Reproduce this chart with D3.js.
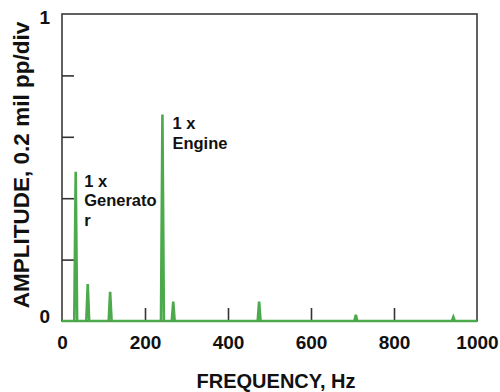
<!DOCTYPE html>
<html>
<head>
<meta charset="utf-8">
<script src="https://cdn.jsdelivr.net/npm/d3@7"></script>
<style>
  html, body { margin: 0; padding: 0; background: #fff; }
  svg { display: block; }
  text { font-family: "Liberation Sans", Arial, sans-serif; font-weight: bold; fill: #111; }
</style>
</head>
<body>
<svg id="chart" width="500" height="392"></svg>
<script>
// Spectrum peaks: frequency (Hz) and amplitude (fraction of full scale)
const peakFreqs = [33, 62, 116, 242, 268, 475, 708, 943];
const peakAmps  = [0.486, 0.12, 0.095, 0.673, 0.063, 0.063, 0.02, 0.013];
const peakHalfWidth = 3.5; // Hz

const xTicks = [0, 200, 400, 600, 800, 1000];
const yTicks = [0, 0.2, 0.4, 0.6, 0.8, 1];
const yTickLabels = ["0", "", "", "", "", "1"];

const annotations = [
  { freq: 242, amp: 0.673, dx: 10, lines: ["1 x", "Engine"] },
  { freq: 33, amp: 0.486, dx: 8.5, lines: ["1 x", "Generato", "r"] }
];

const svg = d3.select("#chart");
const plotL = 62, plotR = 477, plotT = 14, plotB = 321;

const x = d3.scaleLinear().domain([0, 1000]).range([plotL, plotR]);
const y = d3.scaleLinear().domain([0, 1]).range([plotB, plotT]);

// Build the spectrum trace: flat baseline with narrow triangular peaks
const trace = [[0, 0]];
peakFreqs.forEach((f, i) => {
  trace.push([f - peakHalfWidth, 0], [f, peakAmps[i]], [f + peakHalfWidth, 0]);
});
trace.push([1000, 0]);

// Frame
svg.append("rect")
  .attr("x", plotL).attr("y", plotT)
  .attr("width", plotR - plotL).attr("height", plotB - plotT)
  .attr("fill", "none").attr("stroke", "#3a3a3a").attr("stroke-width", 1.6);

// Y axis: inward ticks, only end labels
const yAxis = d3.axisLeft(y).tickValues(yTicks).tickSizeInner(-12).tickSizeOuter(0)
  .tickPadding(13).tickFormat((d, i) => yTickLabels[i]);
const gy = svg.append("g").attr("transform", `translate(${plotL},0)`).call(yAxis);
gy.select(".domain").remove();
gy.selectAll(".tick line").attr("stroke", "#333").attr("stroke-width", 1.6)
  .filter(d => d === 0 || d === 1).remove();
gy.selectAll(".tick text").attr("font-size", 19).attr("fill", "#111")
  .style("font-family", "Liberation Sans, Arial, sans-serif").style("font-weight", "bold")
  .attr("x", -12)
  .attr("y", d => d === 0 ? -5 : 3)
  .attr("dy", "0.35em");

// X axis: inward ticks
const xAxis = d3.axisBottom(x).tickValues(xTicks).tickSizeInner(-13).tickSizeOuter(0)
  .tickPadding(28).tickFormat(d3.format("d"));
const gx = svg.append("g").attr("transform", `translate(0,${plotB})`).call(xAxis);
gx.select(".domain").remove();
gx.selectAll(".tick line").attr("stroke", "#333").attr("stroke-width", 1.6)
  .filter(d => d === 0 || d === 1000).remove();
gx.selectAll(".tick text").attr("font-size", 19).attr("fill", "#111")
  .style("font-family", "Liberation Sans, Arial, sans-serif").style("font-weight", "bold")
  .attr("y", 15).attr("dy", "0.71em");

// Spectrum line
svg.append("path")
  .datum(trace)
  .attr("fill", "none")
  .attr("stroke", "#4caa4c")
  .attr("stroke-width", 2.6)
  .attr("stroke-linejoin", "miter")
  .attr("d", d3.line().x(d => x(d[0])).y(d => y(d[1])));

// Peak annotations
annotations.forEach(a => {
  const t = svg.append("text")
    .attr("x", x(a.freq) + a.dx)
    .attr("y", y(a.amp) + 15)
    .attr("font-size", 16.5);
  a.lines.forEach((l, i) => {
    t.append("tspan").attr("x", x(a.freq) + a.dx).attr("dy", i === 0 ? 0 : 19.5).text(l);
  });
});

// Axis titles
svg.append("text")
  .attr("x", 276).attr("y", 388)
  .attr("text-anchor", "middle").attr("font-size", 20)
  .text("FREQUENCY, Hz");

svg.append("text")
  .attr("transform", `translate(29,165) rotate(-90)`)
  .attr("text-anchor", "middle").attr("font-size", 22.5)
  .text("AMPLITUDE, 0.2 mil pp/div");
</script>
</body>
</html>
